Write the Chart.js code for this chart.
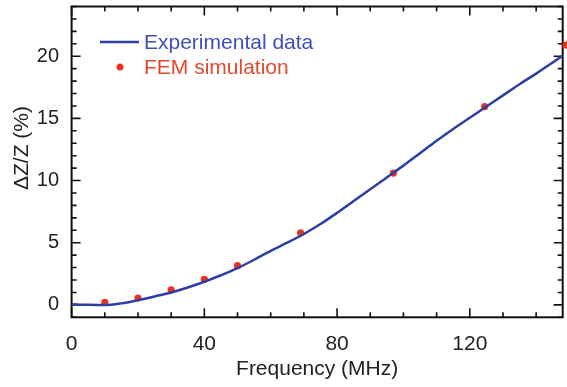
<!DOCTYPE html>
<html><head><meta charset="utf-8">
<script src="https://cdn.jsdelivr.net/npm/chart.js@4.4.1/dist/chart.umd.min.js"></script>
<style>html,body{margin:0;padding:0;background:#fff;overflow:hidden}</style>
</head><body>
<canvas id="c" width="567" height="387" style="display:block;width:567px;height:387px"></canvas>
<script>
// ---- data ----
const expFreq = [0,5,10,15,20,25,30,35,40,45,50,55,60,65,70,75,80,85,90,95,100,105,110,115,120,125,130,135,140,145,148];
const expDZ   = [0.05,0.0,-0.02,0.12,0.38,0.68,1.0,1.4,1.86,2.38,2.95,3.63,4.35,5.0,5.7,6.5,7.4,8.35,9.3,10.25,11.2,12.2,13.2,14.15,15.05,15.95,16.85,17.75,18.6,19.5,20.05];
const femFreq = [10,20,30,40,50,69,97,124.5,149];
const femDZ   = [0.2,0.55,1.2,2.05,3.15,5.8,10.6,15.95,20.9];
const xTickLabels = [0,40,80,120];
const yTickLabels = [0,5,10,15,20];
const seriesNames = ['Experimental data','FEM simulation'];
const xTitle = 'Frequency (MHz)';
const yTitle = 'ΔZ/Z (%)';

const BLUE_LINE = '#2e3fa3', BLUE_TEXT = '#3f50b4', RED = '#e8341f', RED_TEXT = '#e4482e';
const FONT = "'Liberation Sans', Arial, sans-serif";

const decor = {
  id: 'decor',
  beforeDatasetsDraw(chart) {
    const {ctx, chartArea: a, scales: {x, y}} = chart;
    ctx.save();
    ctx.strokeStyle = '#111';
    ctx.lineWidth = 2;
    ctx.strokeRect(a.left, a.top, a.right - a.left, a.bottom - a.top);
    ctx.lineWidth = 1.6;
    ctx.beginPath();
    for (let v = x.min; v <= x.max; v += 10) {
      const px = x.getPixelForValue(v);
      const L = (v % 40 === 0) ? 9 : 5;
      ctx.moveTo(px, a.bottom); ctx.lineTo(px, a.bottom - L);
      ctx.moveTo(px, a.top); ctx.lineTo(px, a.top + L);
    }
    for (let v = Math.ceil(y.min); v <= y.max; v += 1) {
      const py = y.getPixelForValue(v);
      const L = (v % 5 === 0) ? 9 : 5;
      ctx.moveTo(a.left, py); ctx.lineTo(a.left + L, py);
      ctx.moveTo(a.right, py); ctx.lineTo(a.right - L, py);
    }
    ctx.stroke();
    ctx.restore();
  },
  afterDraw(chart) {
    const {ctx} = chart;
    ctx.save();
    ctx.font = '21px ' + FONT;
    ctx.fillStyle = '#222';
    ctx.textAlign = 'center';
    ctx.textBaseline = 'middle';
    ctx.translate(22, 148);
    ctx.rotate(-Math.PI / 2);
    ctx.fillText(yTitle, 0, 0);
    ctx.restore();
    ctx.save();
    ctx.font = '21px ' + FONT;
    ctx.textAlign = 'left';
    ctx.textBaseline = 'middle';
    ctx.strokeStyle = BLUE_LINE; ctx.lineWidth = 2.5;
    ctx.beginPath(); ctx.moveTo(100, 42); ctx.lineTo(139, 42); ctx.stroke();
    ctx.fillStyle = BLUE_TEXT;
    ctx.fillText(seriesNames[0], 144, 43);
    ctx.fillStyle = RED;
    ctx.beginPath(); ctx.arc(120, 67, 3.5, 0, Math.PI * 2); ctx.fill();
    ctx.fillStyle = RED_TEXT;
    ctx.fillText(seriesNames[1], 144, 68);
    ctx.restore();
  }
};

new Chart(document.getElementById('c'), {
  type: 'line',
  data: {
    datasets: [
      {
        label: seriesNames[0],
        data: expFreq.map((f, i) => ({x: f, y: expDZ[i]})),
        borderColor: BLUE_LINE, borderWidth: 2.5,
        pointRadius: 0, cubicInterpolationMode: 'monotone', fill: false
      },
      {
        label: seriesNames[1],
        data: femFreq.map((f, i) => ({x: f, y: femDZ[i]})),
        showLine: false, pointRadius: 3.6, pointBackgroundColor: RED,
        pointBorderWidth: 0, borderColor: RED, clip: false
      }
    ]
  },
  options: {
    responsive: false, animation: false, devicePixelRatio: 1,
    layout: {padding: {left: 0, right: 4.3, top: 6.5, bottom: 0}},
    plugins: {legend: {display: false}, tooltip: {enabled: false}},
    scales: {
      x: {
        type: 'linear', min: 0, max: 148,
        grid: {display: false}, border: {display: false},
        afterBuildTicks: s => { s.ticks = xTickLabels.map(v => ({value: v})); },
        ticks: {
          padding: 6, color: '#222', autoSkip: false, maxRotation: 0,
          font: {family: FONT, size: 21}
        },
        title: {display: true, text: xTitle, color: '#222', font: {family: FONT, size: 21}, padding: {top: 0, bottom: 5}},
        afterFit: s => { s.height = 69.7; s.paddingLeft = 0; s.paddingRight = 0; }
      },
      y: {
        type: 'linear', min: -1, max: 24,
        grid: {display: false}, border: {display: false},
        afterBuildTicks: s => { s.ticks = yTickLabels.map(v => ({value: v})); },
        ticks: {
          padding: 4.5, color: '#222', autoSkip: false,
          font: {family: FONT, size: 20}
        },
        afterFit: s => { s.width = 71.6; s.paddingTop = 0; s.paddingBottom = 0; }
      }
    }
  },
  plugins: [decor]
});
</script>
</body></html>
